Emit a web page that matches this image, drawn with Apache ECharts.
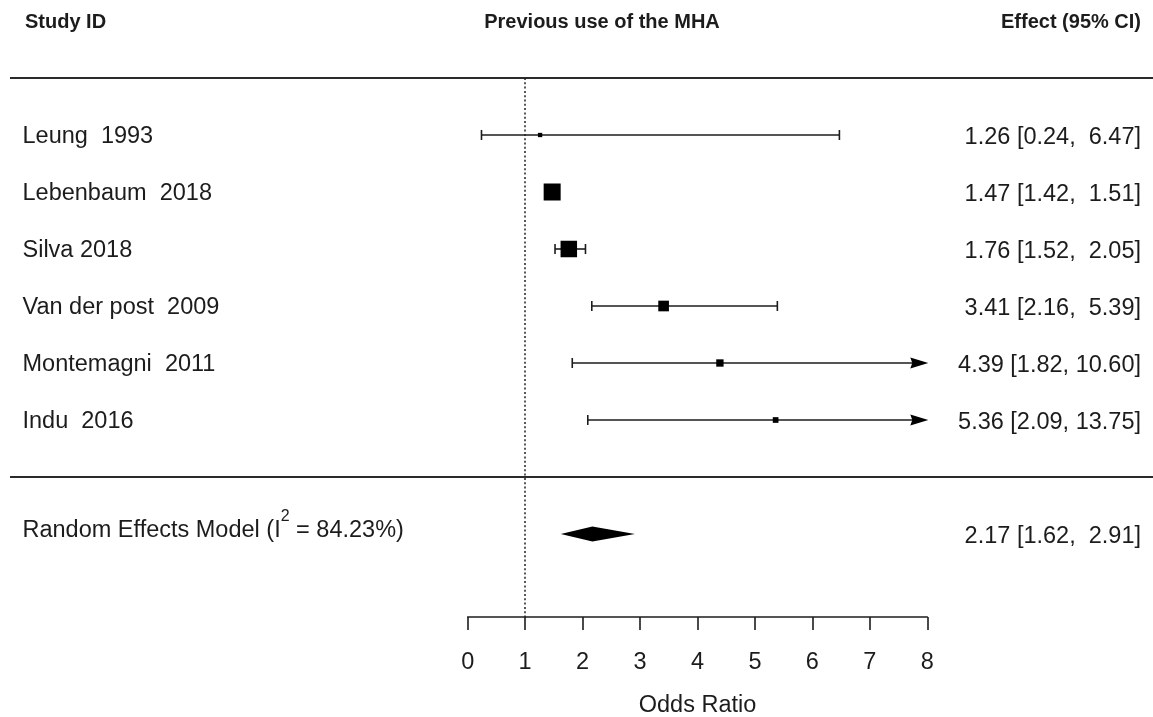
<!DOCTYPE html>
<html>
<head>
<meta charset="utf-8">
<script src="https://cdn.jsdelivr.net/npm/echarts@6/dist/echarts.min.js"></script>
<style>
html,body{margin:0;padding:0;background:#fff;}
#chart{width:1153px;height:717px;}
</style>
</head>
<body>
<div id="chart"></div>
<script>
// ---------------- data ----------------
const studies = ['Leung  1993', 'Lebenbaum  2018', 'Silva 2018', 'Van der post  2009', 'Montemagni  2011', 'Indu  2016'];
const estimates = [1.26, 1.47, 1.76, 3.41, 4.39, 5.36];
const lowerCI = [0.24, 1.42, 1.52, 2.16, 1.82, 2.09];
const upperCI = [6.47, 1.51, 2.05, 5.39, 10.60, 13.75];
const weights = [3.2, 31.5, 30.4, 17.4, 10.0, 6.3];   // estimated study weights (%)
const pooledLabel = 'Random Effects Model';
const pooledI2 = '84.23%';
const pooledEst = [2.17];
const pooledLower = [1.62];
const pooledUpper = [2.91];
const headers = ['Study ID', 'Previous use of the MHA', 'Effect (95% CI)'];
const axisTitle = 'Odds Ratio';
const xTicks = [0, 1, 2, 3, 4, 5, 6, 7, 8];
const refValue = 1;

// ---------------- layout ----------------
const X_MIN = xTicks[0], X_MAX = xTicks[xTicks.length - 1];
const ROW_PX = 57, TOP_PX = 78, AXIS_PX = 617, H = 717, W = 1153;
const Y_MAX0 = (AXIS_PX - TOP_PX) / ROW_PX;
const Y_MIN1 = -TOP_PX / ROW_PX, Y_MAX1 = (H - TOP_PX) / ROW_PX;
const INK = '#1c1c1c';
const FONT = 'Liberation Sans, Arial, sans-serif';
const FS = 23.5;

const fmt = v => v.toFixed(2);
const ciText = (e, l, u) => fmt(e) + ' [' + fmt(l) + ', ' + fmt(u).padStart(5, ' ') + ']';

const wMin = Math.min(...weights), wMax = Math.max(...weights);
const boxSize = w => 4.3 + (w - wMin) / (wMax - wMin) * (17 - 4.3);

const studyRows = studies.map((s, i) => [i + 1, lowerCI[i], upperCI[i], estimates[i], weights[i]]);
const pooledRow = studies.length + 2;
const bottomSepRow = studies.length + 1;

// text items: [x(px-domain), row, text, align, kind]
const textItems = [];
textItems.push([25, Y_MIN1 + 22 / ROW_PX, headers[0], 'left', 'head']);
textItems.push([602, Y_MIN1 + 22 / ROW_PX, headers[1], 'center', 'head']);
textItems.push([1141, Y_MIN1 + 22 / ROW_PX, headers[2], 'right', 'head']);
studies.forEach((s, i) => {
  textItems.push([22.5, i + 1 + 1.5 / ROW_PX, s, 'left', 'row']);
  textItems.push([1141, i + 1 + 2.5 / ROW_PX, ciText(estimates[i], lowerCI[i], upperCI[i]), 'right', 'row']);
});
textItems.push([22.5, pooledRow - 8.25 / ROW_PX, 'pooled', 'left', 'pooled']);
textItems.push([1141, pooledRow + 2.5 / ROW_PX, ciText(pooledEst[0], pooledLower[0], pooledUpper[0]), 'right', 'row']);

const chart = echarts.init(document.getElementById('chart'), null, {renderer: 'canvas'});

function renderStudy(params, api) {
  const r = api.value(0), lo = api.value(1), hi = api.value(2), e = api.value(3), w = api.value(4);
  const hiC = Math.min(hi, X_MAX);
  const pLo = api.coord([lo, r]), pHi = api.coord([hiC, r]), pE = api.coord([e, r]);
  const y = pLo[1];
  const st = {stroke: INK, lineWidth: 1.6};
  const ch = [];
  ch.push({type: 'line', shape: {x1: pLo[0], y1: y, x2: hi > X_MAX ? pHi[0] - 10 : pHi[0], y2: y}, style: st});
  ch.push({type: 'line', shape: {x1: pLo[0], y1: y - 5, x2: pLo[0], y2: y + 5}, style: st});
  if (hi > X_MAX) {
    ch.push({type: 'polygon', shape: {points: [[pHi[0] + 1, y], [pHi[0] - 17, y - 5.5], [pHi[0] - 15, y], [pHi[0] - 17, y + 5.5]]}, style: {fill: '#000'}});
  } else {
    ch.push({type: 'line', shape: {x1: pHi[0], y1: y - 5, x2: pHi[0], y2: y + 5}, style: st});
  }
  const s = boxSize(w);
  ch.push({type: 'rect', shape: {x: pE[0] - s / 2, y: y - s / 2, width: s, height: s}, style: {fill: '#000'}});
  return {type: 'group', children: ch};
}

function renderDiamond(params, api) {
  const e = api.value(0), lo = api.value(1), hi = api.value(2), r = api.value(3);
  const pl = api.coord([lo, r]), pe = api.coord([e, r]), ph = api.coord([hi, r]);
  const h = 7.5;
  return {type: 'polygon', shape: {points: [[pl[0], pl[1]], [pe[0], pe[1] - h], [ph[0], ph[1]], [pe[0], pe[1] + h]]}, style: {fill: '#000'}};
}

function renderText(params, api) {
  const idx = params.dataIndex;
  const it = textItems[idx];
  const p = api.coord([it[0], it[1]]);
  if (it[4] === 'pooled') {
    return {type: 'text', x: p[0], y: p[1], style: {
      text: '{a|' + pooledLabel + ' (I}{s|2}{a| = ' + pooledI2 + ')}',
      align: 'left', verticalAlign: 'middle',
      rich: {
        a: {fontFamily: FONT, fontSize: FS, fill: INK, lineHeight: 34.5, verticalAlign: 'bottom'},
        s: {fontFamily: FONT, fontSize: 16, fill: INK, lineHeight: 16, verticalAlign: 'top'}
      }
    }};
  }
  const head = it[4] === 'head';
  return {type: 'text', x: p[0], y: p[1], style: {
    text: it[2], align: it[3], verticalAlign: 'middle',
    fontFamily: FONT, fontSize: head ? 20 : FS, fontWeight: head ? 'bold' : 'normal', fill: INK
  }};
}

const option = {
  backgroundColor: '#ffffff',
  animation: false,
  grid: [
    {left: 467.7, right: W - 927.3, top: TOP_PX, bottom: H - AXIS_PX, containLabel: false, outerBoundsMode: 'none'},
    {left: 0, right: 0, top: 0, bottom: 0, containLabel: false, outerBoundsMode: 'none'}
  ],
  xAxis: [
    {
      type: 'value', gridIndex: 0, min: X_MIN, max: X_MAX, interval: 1,
      splitLine: {show: false},
      axisLine: {show: true, onZero: false, lineStyle: {color: INK, width: 1.6}},
      axisTick: {show: true, inside: false, length: 13, lineStyle: {color: INK, width: 1.6}},
      axisLabel: {show: true, margin: 34, color: INK, fontFamily: FONT, fontSize: FS},
      name: axisTitle, nameLocation: 'middle', nameGap: 77,
      nameTextStyle: {color: INK, fontFamily: FONT, fontSize: FS}
    },
    {type: 'value', gridIndex: 1, min: 0, max: W, show: false}
  ],
  yAxis: [
    {type: 'value', gridIndex: 0, min: 0, max: Y_MAX0, inverse: true, show: false},
    {type: 'value', gridIndex: 1, min: Y_MIN1, max: Y_MAX1, inverse: true, show: false}
  ],
  series: [
    {
      type: 'custom', xAxisIndex: 1, yAxisIndex: 1,
      renderItem: (params, api) => {
        const a = api.coord([api.value(0), api.value(2)]);
        const b = api.coord([api.value(1), api.value(2)]);
        return {type: 'line', shape: {x1: a[0], y1: a[1], x2: b[0], y2: b[1]}, style: {stroke: '#2a2a2a', lineWidth: 2}};
      },
      data: [[10, W, 0], [10, W, bottomSepRow]],
      silent: true
    },
    {
      type: 'custom', xAxisIndex: 0, yAxisIndex: 0,
      renderItem: renderStudy,
      data: studyRows,
      markLine: {
        silent: true, symbol: 'none', label: {show: false},
        lineStyle: {color: '#222', width: 1.5, type: [2, 2.3]},
        data: [{xAxis: refValue}]
      },
      z: 3
    },
    {
      type: 'custom', xAxisIndex: 0, yAxisIndex: 0,
      renderItem: renderDiamond,
      data: [[pooledEst[0], pooledLower[0], pooledUpper[0], pooledRow]],
      z: 3
    },
    {
      type: 'custom', xAxisIndex: 1, yAxisIndex: 1,
      renderItem: renderText,
      data: textItems.map(t => [t[0], t[1]]),
      silent: true, z: 4
    }
  ]
};
chart.setOption(option);
</script>
</body>
</html>
